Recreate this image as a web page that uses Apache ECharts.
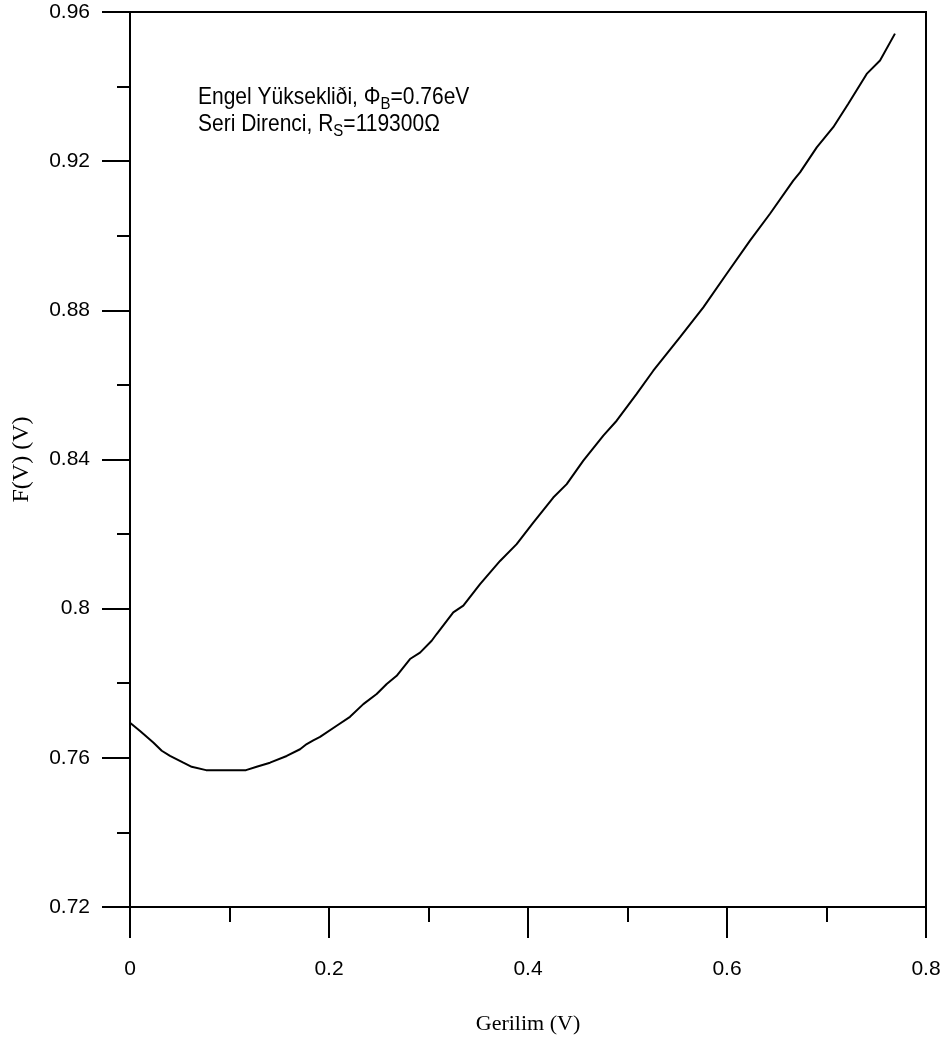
<!DOCTYPE html>
<html>
<head>
<meta charset="utf-8">
<title>F(V) - Gerilim</title>
<script src="https://cdn.jsdelivr.net/npm/echarts@6/dist/echarts.min.js"></script>
<style>
  html, body { margin: 0; padding: 0; background: #ffffff; }
  #chart { width: 949px; height: 1046px; }
</style>
</head>
<body>
<div id="chart"></div>
<script>
// Norde fonksiyonu: gerilim (V) ve F(V) (V) değerleri
const voltage = [
  0.0000, 0.0101, 0.0234, 0.0319, 0.0402, 0.0536, 0.0620, 0.0764, 0.1166, 0.1273,
  0.1407, 0.1575, 0.1709, 0.1776, 0.1842, 0.1910, 0.2077, 0.2211, 0.2345, 0.2479,
  0.2580, 0.2680, 0.2814, 0.2915, 0.3032, 0.3082, 0.3249, 0.3350, 0.3518, 0.3719,
  0.3886, 0.4053, 0.4254, 0.4389, 0.4556, 0.4757, 0.4891, 0.5092, 0.5259, 0.5528,
  0.5762, 0.5997, 0.6231, 0.6432, 0.6666, 0.6734, 0.6902, 0.7068, 0.7219, 0.7404,
  0.7538, 0.7688
];
const fValue = [
  0.7694, 0.7672, 0.7641, 0.7619, 0.7605, 0.7587, 0.7576, 0.7567, 0.7567, 0.7576,
  0.7587, 0.7605, 0.7623, 0.7637, 0.7647, 0.7656, 0.7686, 0.7710, 0.7744, 0.7771,
  0.7798, 0.7820, 0.7865, 0.7882, 0.7914, 0.7932, 0.7990, 0.8008, 0.8066, 0.8128,
  0.8173, 0.8231, 0.8298, 0.8334, 0.8397, 0.8464, 0.8504, 0.8576, 0.8638, 0.8728,
  0.8808, 0.8898, 0.8987, 0.9059, 0.9148, 0.9170, 0.9237, 0.9291, 0.9354, 0.9434,
  0.9470, 0.9542
];

const xTitle = 'Gerilim (V)';
const yTitle = 'F(V) (V)';
const noteLine1 = 'Engel Yüksekliði, Φ{sub|B}=0.76eV';
const noteLine2 = 'Seri Direnci, R{sub|S}=119300Ω';

const sans = '"Liberation Sans", Arial, sans-serif';
const serif = '"Liberation Serif", "Times New Roman", serif';

const points = voltage.map((v, i) => [v, fValue[i]]);

const chart = echarts.init(document.getElementById('chart'), null, { renderer: 'canvas' });

const axisCommon = {
  axisLine: { show: true, onZero: false, lineStyle: { color: '#000', width: 2 } },
  splitLine: { show: false },
  minorSplitLine: { show: false }
};

// Annotation text: slightly tall, narrow lettering with subscripts
function note(text, top) {
  return {
    type: 'text', left: 198, top: top, scaleY: 1.1,
    style: {
      text: text,
      font: '21px ' + sans,
      fill: '#000',
      rich: { sub: { fontSize: 15, fontFamily: sans, fill: '#000', padding: [13, 0, 0, 0] } }
    }
  };
}

chart.setOption({
  backgroundColor: '#ffffff',
  animation: false,
  grid: {
    left: 130, top: 12, width: 796, height: 895,
    show: true, borderColor: '#000', borderWidth: 2, backgroundColor: 'transparent'
  },
  xAxis: Object.assign({}, axisCommon, {
    type: 'value',
    min: 0, max: 0.8, interval: 0.2,
    axisTick: { show: true, inside: false, length: 31, lineStyle: { color: '#000', width: 2 } },
    minorTick: { show: true, splitNumber: 2, length: 15, lineStyle: { color: '#000', width: 2 } },
    axisLabel: { color: '#000', fontFamily: sans, fontSize: 21, margin: 52 },
    name: xTitle,
    nameLocation: 'middle',
    nameGap: 106,
    nameTextStyle: { color: '#000', fontFamily: serif, fontSize: 22 }
  }),
  yAxis: Object.assign({}, axisCommon, {
    type: 'value',
    min: 0.72, max: 0.96, interval: 0.04,
    axisTick: { show: true, inside: false, length: 28, lineStyle: { color: '#000', width: 2 } },
    minorTick: { show: true, splitNumber: 2, length: 13, lineStyle: { color: '#000', width: 2 } },
    axisLabel: { color: '#000', fontFamily: sans, fontSize: 21, margin: 40 },
    name: yTitle,
    nameLocation: 'middle',
    nameRotate: 90,
    nameGap: 96,
    nameTextStyle: { color: '#000', fontFamily: serif, fontSize: 24 }
  }),
  series: [{
    type: 'line',
    data: points,
    showSymbol: false,
    smooth: false,
    lineStyle: { color: '#000', width: 2 },
    z: 3
  }],
  graphic: [
    note(noteLine1, 86),
    note(noteLine2, 113)
  ]
});
</script>
</body>
</html>
